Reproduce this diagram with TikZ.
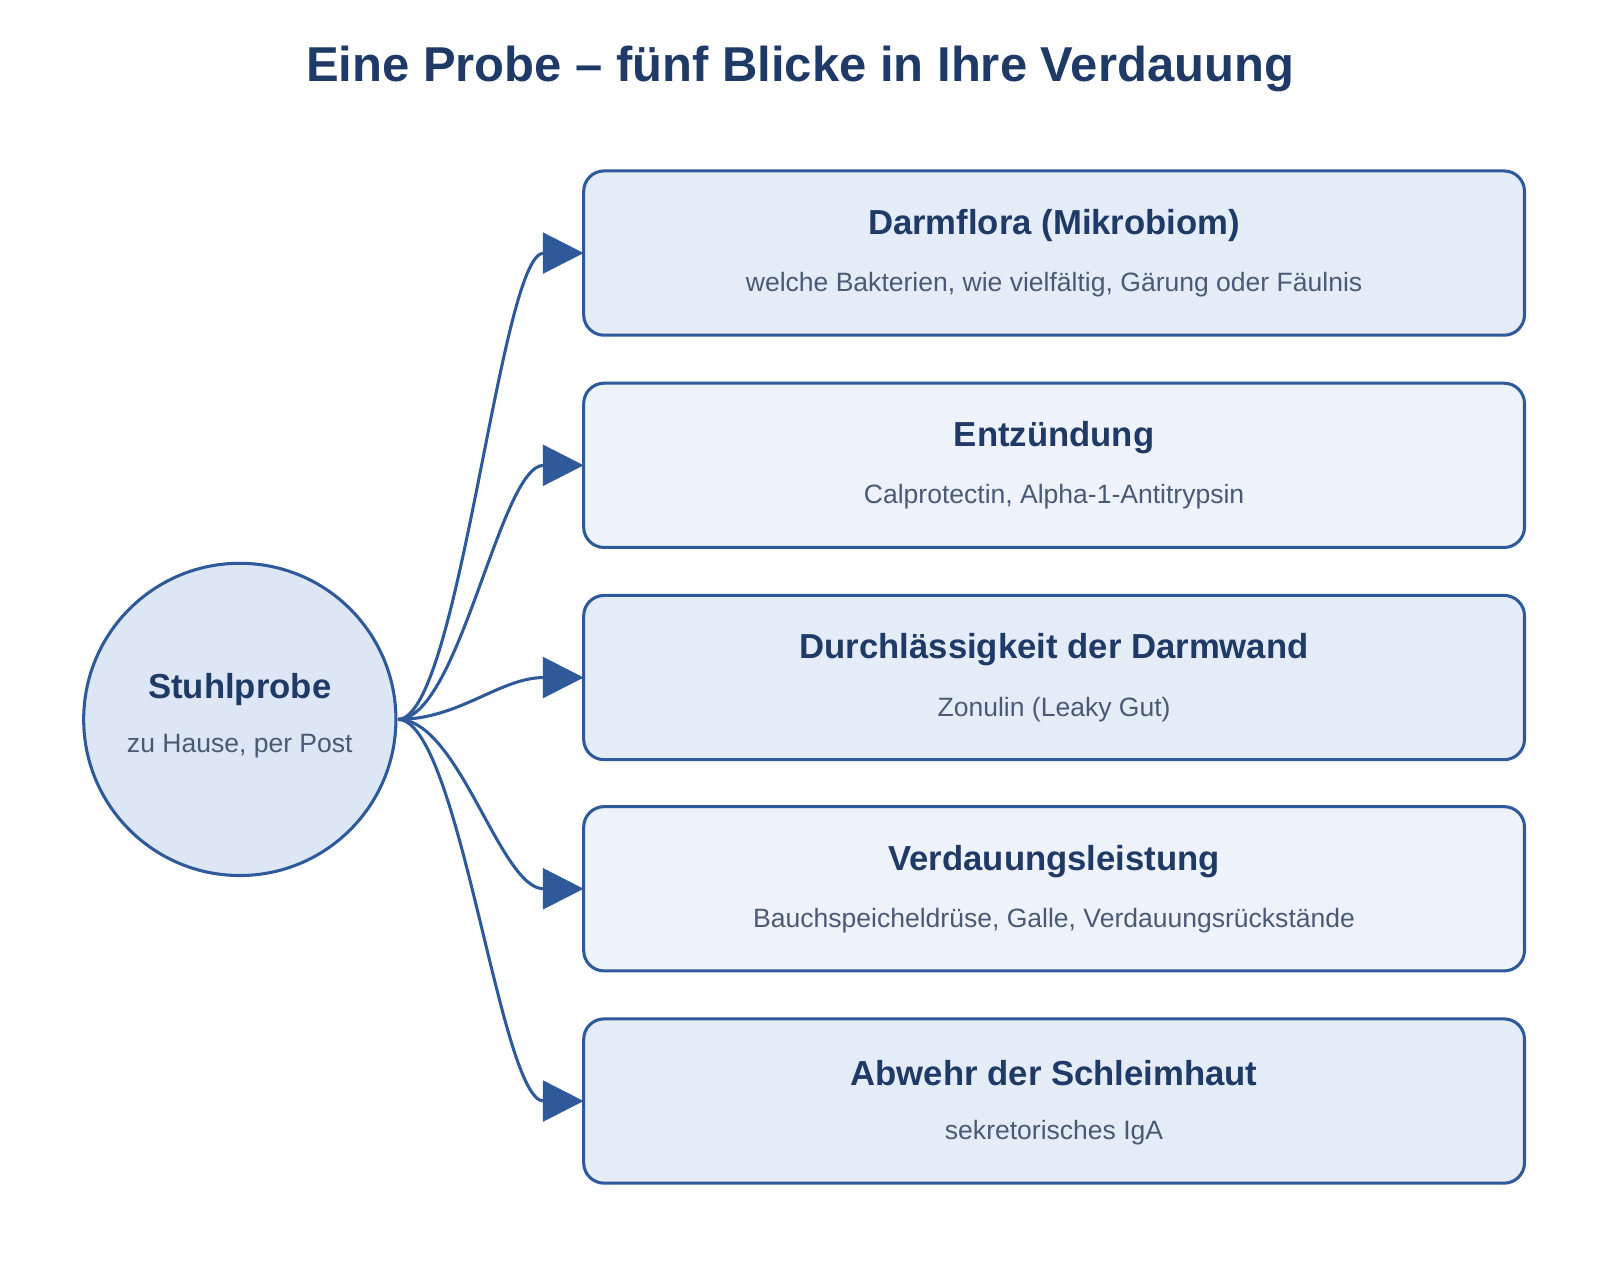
\documentclass[tikz,border=0pt]{standalone}
\usepackage{fontspec}
\setmainfont{Liberation Sans}
\usetikzlibrary{arrows.meta}
\definecolor{st}{HTML}{2E5A9A}
\definecolor{tt}{HTML}{1F3A66}
\definecolor{sub}{HTML}{4A5A75}
\definecolor{fa}{HTML}{E4ECF8}
\definecolor{fb}{HTML}{EDF2FB}
\definecolor{fc}{HTML}{DCE6F5}
\begin{document}
\begin{tikzpicture}[x=0.5pt,y=-0.5pt,
  box/.style={draw=st,line width=1.5pt,rounded corners=10pt,minimum width=461pt,minimum height=80.5pt,inner sep=0pt},
  ttl/.style={text=tt,font=\fontsize{17}{20}\selectfont\bfseries},
  sb/.style={text=sub,font=\fontsize{13}{16}\selectfont},
  con/.style={draw=st,line width=1.5pt,-{Triangle[length=20pt,width=20pt]}}]
\useasboundingbox (0,0) rectangle (1568,1254);
\node[text=tt,font=\fontsize{24}{28}\selectfont\bfseries] (title) at (784,68) {Eine Probe – fünf Blicke in Ihre Verdauung};
\node[circle,draw=st,fill=fc,line width=1.5pt,minimum size=153pt] (c) at (235,705) {};
\node[ttl] (ct) at (235,676) {Stuhlprobe};
\node[sb] (cs) at (235,731) {zu Hause, per Post};
\coordinate (o) at (390,705);
\foreach \i/\y/\f/\a/\b in {1/248/fa/Darmflora (Mikrobiom)/{welche Bakterien, wie vielfältig, Gärung oder Fäulnis},
  2/456/fb/Entzündung/{Calprotectin, Alpha-1-Antitrypsin},
  3/664/fa/Durchlässigkeit der Darmwand/{Zonulin (Leaky Gut)},
  4/871/fb/Verdauungsleistung/{Bauchspeicheldrüse, Galle, Verdauungsrückstände},
  5/1079/fa/Abwehr der Schleimhaut/{sekretorisches IgA}}{
  \node[box,fill=\f] (b\i) at (1033,\y) {};
  \node[ttl] (t\i) at (1033,\y-27) {\a};
  \node[sb] (s\i) at (1033,\y+31) {\b};
  \coordinate (e\i) at (572,\y);
  \draw[con] (o) .. controls (450,705) and (490,\y) .. (e\i);
}
\end{tikzpicture}
\end{document}
